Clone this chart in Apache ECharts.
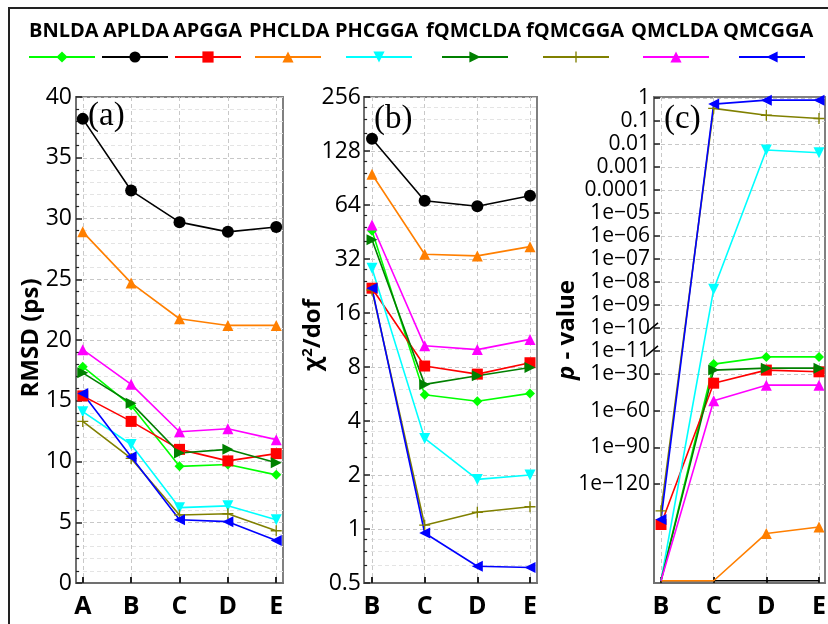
<!DOCTYPE html>
<html><head><meta charset="utf-8">
<script src="https://cdn.jsdelivr.net/npm/echarts@6/dist/echarts.min.js"></script>
<style>html,body{margin:0;padding:0;background:#fff}#c{width:828px;height:624px}</style>
</head><body><div id="c"></div>
<script>
// ---------------- data ----------------
const seriesNames = ['BNLDA','APLDA','APGGA','PHCLDA','PHCGGA','fQMCLDA','fQMCGGA','QMCLDA','QMCGGA'];
const categoriesA = ['A','B','C','D','E'];
const categoriesBC = ['B','C','D','E'];

// (a) RMSD (ps), rows follow seriesNames, columns A..E
const rmsdValues = [
  [17.8, 14.6, 9.6, 9.75, 8.9],
  [38.2, 32.3, 29.7, 28.9, 29.3],
  [15.4, 13.3, 11.0, 10.05, 10.65],
  [28.9, 24.7, 21.75, 21.2, 21.2],
  [14.1, 11.4, 6.2, 6.35, 5.2],
  [17.3, 14.8, 10.7, 11.0, 9.9],
  [13.3, 10.25, 5.6, 5.7, 4.3],
  [19.2, 16.35, 12.45, 12.7, 11.8],
  [15.6, 10.4, 5.2, 5.05, 3.5]
];
// (b) chi^2/dof, columns B..E
const chi2Values = [
  [46, 5.6, 5.15, 5.7],
  [150, 67.6, 63, 72],
  [22, 8.1, 7.3, 8.45],
  [95, 34, 33.3, 37.5],
  [28.4, 3.2, 1.89, 2.0],
  [41, 6.4, 7.15, 7.95],
  [21.5, 1.05, 1.24, 1.33],
  [49.5, 10.5, 10.0, 11.4],
  [22, 0.95, 0.62, 0.61]
];
// (c) p-value, columns B..E (1e-199 = at the axis floor)
const pValues = [
  [1e-199, 1.6e-22, 1.3e-16, 1.3e-16],
  [1e-199, 1e-199, 1e-199, 1e-199],
  [1e-153, 4e-38, 2e-27, 8e-29],
  [1e-199, 1e-199, 5e-161, 1e-155],
  [1e-199, 4.8e-9, 0.0055, 0.0042],
  [1e-199, 2e-27, 8e-26, 8e-26],
  [1.6e-142, 0.36, 0.18, 0.13],
  [1e-199, 1.6e-52, 1e-39, 1e-39],
  [1e-149, 0.55, 0.82, 0.82]
];
const P_FLOOR = 1e-199;
const pTickValues = [1, 0.1, 0.01, 0.001, 0.0001, 1e-5, 1e-6, 1e-7, 1e-8, 1e-9, 1e-10, 1e-11, 1e-30, 1e-60, 1e-90, 1e-120];
const pTickLabels = ['1','0.1','0.01','0.001','0.0001','1e\u221205','1e\u221206','1e\u221207','1e\u221208','1e\u221209','1e\u221210','1e\u221211','1e\u221230','1e\u221260','1e\u221290','1e\u2212120'];
const pBreakTicks = [1e-10, 1e-11];

// ---------------- styles ----------------
const seriesColors = ['#00ff00','#000000','#ff0000','#ff7f00','#00ffff','#008000','#808000','#ff00ff','#0000ff'];
const plusPath = 'path://M-1,-0.12H-0.12V-1H0.12V-0.12H1V0.12H0.12V1H-0.12V0.12H-1Z';
const seriesSymbols = ['diamond','circle','rect','triangle','triangle','triangle',plusPath,'triangle','triangle'];
const seriesRotate = [0,0,0,0,180,-90,0,0,90];
const seriesSymbolSize = [10,12,11,11,11,11,11,11,11];
const legendTextLeft = [29,103,173,249,335,426,526,631,723];
const legendIconLeft = [28,101,174,254,345,441,542,642,738];

// piecewise scale for broken p-value axis (upper: 1 unit/decade, lower compressed)
const BREAK_EXP = -11, LOWER_FACTOR = 0.0532;
function pToAxis(p) {
  const L = Math.log10(p);
  return L >= BREAK_EXP ? L : BREAK_EXP + (L - BREAK_EXP) * LOWER_FACTOR;
}
const pTickAxis = pTickValues.map(pToAxis);

const FONT = 'Open Sans';
const gridLine = {show: true, lineStyle: {color: '#c8c8c8', type: [4, 3], width: 1}};
const minorGridLine = {show: true, lineStyle: {color: '#e4e4e4', type: [4, 3], width: 1}};
const axisLineStyle = {show: true, onZero: false, lineStyle: {color: '#707070', width: 2}};

function xAxisFor(gridIndex, cats, min, max) {
  const vals = cats.map((c, i) => i);
  return {
    type: 'value', gridIndex, min, max,
    axisLine: axisLineStyle,
    axisTick: {show: true, inside: true, length: 6, customValues: vals, lineStyle: {color: '#222', width: 2}},
    axisLabel: {customValues: vals, formatter: v => cats[Math.round(v)] || '', fontFamily: FONT, fontSize: 25, fontWeight: 'bold', color: '#000', margin: 11},
    splitLine: gridLine
  };
}

const grids = [
  {left: 76, top: 97, width: 207, height: 486},
  {left: 364, top: 97, width: 173, height: 486},
  {left: 654, top: 97, width: 171, height: 486}
].map(g => Object.assign(g, {show: true, borderColor: '#808080', borderWidth: 2, backgroundColor: 'transparent', outerBoundsMode: 'none', containLabel: false}));

const xAxes = [
  xAxisFor(0, categoriesA, -0.14, 4.14),
  xAxisFor(1, categoriesBC, -0.152, 3.133),
  xAxisFor(2, categoriesBC, -0.133, 3.114)
];

const yAxes = [
  {
    type: 'value', gridIndex: 0, min: 0, max: 40, interval: 5,
    axisLine: axisLineStyle,
    axisTick: {show: true, inside: true, length: 6, lineStyle: {color: '#222', width: 1.5}},
    minorTick: {show: true, splitNumber: 5, length: 3, lineStyle: {color: '#222', width: 1.2}},
    axisLabel: {fontFamily: FONT, fontSize: 23, color: '#000', margin: 4},
    splitLine: gridLine, minorSplitLine: minorGridLine
  },
  {
    type: 'log', logBase: 2, gridIndex: 1, min: 0.5, max: 256, splitNumber: 9,
    axisLine: axisLineStyle,
    axisTick: {show: true, inside: true, length: 6, lineStyle: {color: '#222', width: 1.5}},
    minorTick: {show: true, splitNumber: 4, length: 3, lineStyle: {color: '#222', width: 1.2}},
    axisLabel: {fontFamily: FONT, fontSize: 23, color: '#000', margin: 3},
    splitLine: gridLine, minorSplitLine: minorGridLine
  },
  {
    type: 'value', gridIndex: 2, min: -21.1, max: 0.05,
    axisLine: axisLineStyle,
    axisTick: {show: true, inside: true, length: 6, customValues: pTickAxis, lineStyle: {color: '#222', width: 1.5}},
    axisLabel: {customValues: pTickAxis, fontFamily: FONT, fontSize: 21, color: '#000', margin: 4,
      formatter: v => {
        let best = 0, d = Infinity;
        pTickAxis.forEach((t, i) => { if (Math.abs(t - v) < d) { d = Math.abs(t - v); best = i; } });
        return pTickLabels[best];
      }},
    splitLine: gridLine
  }
];

const series = [];
[rmsdValues, chi2Values, pValues].forEach((panel, gi) => {
  panel.forEach((vals, si) => {
    series.push({
      type: 'line', name: seriesNames[si], xAxisIndex: gi, yAxisIndex: gi,
      data: vals.map((v, j) => {
        if (gi !== 2) return [j, v];
        // points at the floor of the p-value axis: marker clipped away, line kept
        return v <= P_FLOOR ? {value: [j, pToAxis(v)], symbolSize: 0} : [j, pToAxis(v)];
      }),
      symbol: seriesSymbols[si], symbolSize: seriesSymbolSize[si], symbolRotate: seriesRotate[si],
      showAllSymbol: true, clip: false,
      itemStyle: {color: seriesColors[si]},
      lineStyle: {color: seriesColors[si], width: 1.6},
      emphasis: {disabled: true},
      animation: false, z: 3
    });
  });
});

const legends = [];
seriesNames.forEach((n, i) => {
  legends.push({
    data: [n], left: legendTextLeft[i] - 5, top: 21, padding: 0, icon: 'none', itemWidth: 0, itemGap: 0,
    selectedMode: false,
    textStyle: {fontFamily: FONT, fontSize: 20, fontWeight: 'bold', color: '#000'}
  });
  legends.push({
    data: [n], left: legendIconLeft[i], top: 50, padding: 0, itemWidth: 66, itemHeight: 14, itemGap: 0,
    selectedMode: false, formatter: () => '',
    textStyle: {fontSize: 1}
  });
});

const chart = echarts.init(document.getElementById('c'), null, {renderer: 'canvas'});
const baseGraphic = [
  {type: 'rect', shape: {x: 9, y: 8, width: 900, height: 700}, style: {fill: 'none', stroke: '#222', lineWidth: 2}, z: 0, silent: true},
  {type: 'text', x: 88, y: 116, style: {text: '(a)', fontFamily: 'Liberation Serif', fontSize: 33, fill: '#000', textVerticalAlign: 'middle'}, z: 10},
  {type: 'text', x: 374, y: 119, style: {text: '(b)', fontFamily: 'Liberation Serif', fontSize: 33, fill: '#000', textVerticalAlign: 'middle'}, z: 10},
  {type: 'text', x: 664, y: 119, style: {text: '(c)', fontFamily: 'Liberation Serif', fontSize: 33, fill: '#000', textVerticalAlign: 'middle'}, z: 10},
  {type: 'text', x: 31, y: 338, rotation: Math.PI / 2,
    style: {text: 'RMSD (ps)', fontFamily: FONT, fontSize: 24, fontWeight: 'bold', fill: '#000', textAlign: 'center', textVerticalAlign: 'middle'}},
  {type: 'text', x: 313, y: 335, rotation: Math.PI / 2,
    style: {text: '{n|\u03c7}{s|2}{n|/dof}', textAlign: 'center', textVerticalAlign: 'middle',
      rich: {n: {fontFamily: FONT, fontSize: 24, fontWeight: 'bold', fill: '#000'},
             s: {fontFamily: FONT, fontSize: 15, fontWeight: 'bold', fill: '#000', verticalAlign: 'top', padding: [0, 0, 10, 0]}}}},
  {type: 'text', x: 567, y: 330, rotation: Math.PI / 2,
    style: {text: '{i|p}{n| - value}', textAlign: 'center', textVerticalAlign: 'middle',
      rich: {i: {fontFamily: FONT, fontSize: 24, fontWeight: 'bold', fontStyle: 'italic', fill: '#000'},
             n: {fontFamily: FONT, fontSize: 24, fontWeight: 'bold', fill: '#000'}}}}
];

chart.setOption({
  animation: false,
  backgroundColor: '#fff',
  grid: grids, xAxis: xAxes, yAxis: yAxes, series, legend: legends,
  graphic: baseGraphic
});

// axis break marks on the p-value axis
const breakMarks = pBreakTicks.map(p => {
  const px = chart.convertToPixel({xAxisIndex: 2, yAxisIndex: 2}, [-0.133, pToAxis(p)]);
  return {type: 'line', shape: {x1: px[0] - 8, y1: px[1] + 5, x2: px[0] + 4, y2: px[1] - 5},
    style: {stroke: '#000', lineWidth: 1.5}, z: 20};
});
chart.setOption({graphic: baseGraphic.concat(breakMarks)});
</script></body></html>
